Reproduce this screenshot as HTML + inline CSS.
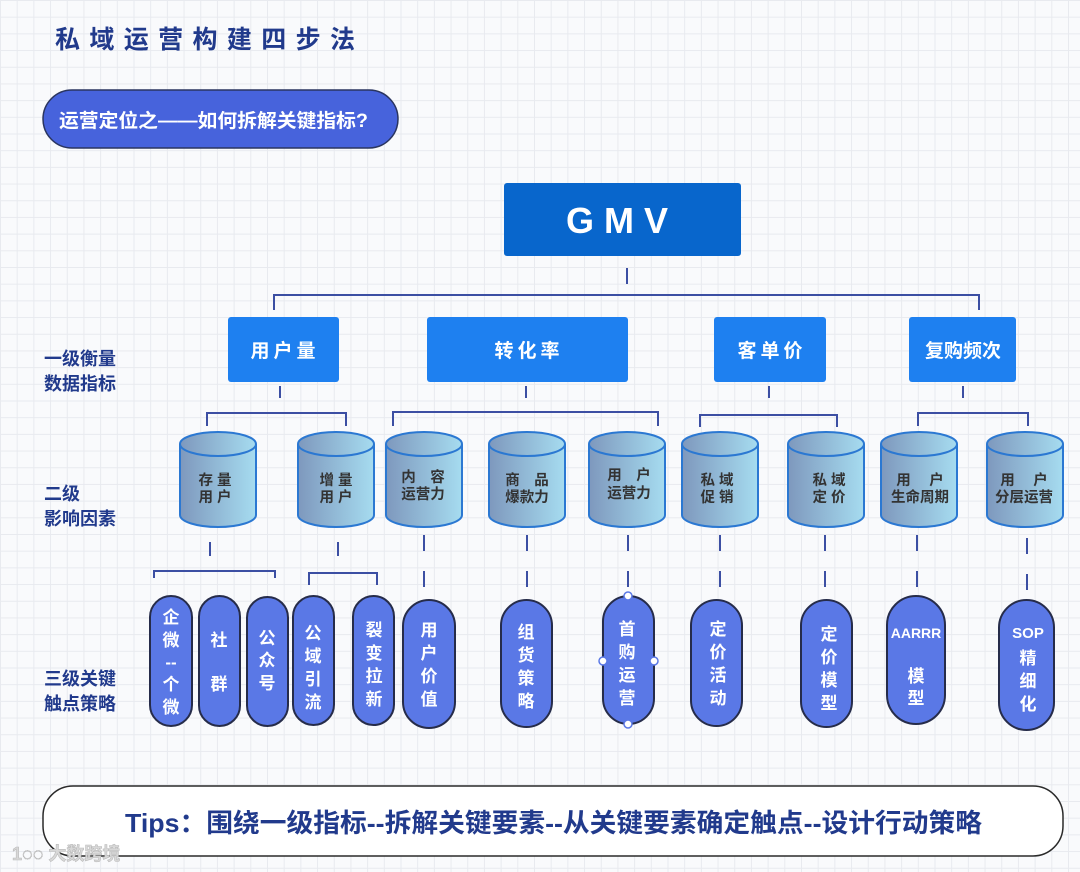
<!DOCTYPE html>
<html><head><meta charset="utf-8"><style>
html,body{margin:0;padding:0}
body{width:1080px;height:872px;overflow:hidden;background-color:#f9fafc;
background-image:linear-gradient(#e8eaef 1px,transparent 1px),linear-gradient(90deg,#e8eaef 1px,transparent 1px);
background-size:16.7px 16.7px;font-family:"Liberation Sans","Noto Sans CJK SC",sans-serif}
svg{position:absolute;left:0;top:0}
text{font-family:"Liberation Sans","Noto Sans CJK SC",sans-serif;font-weight:bold}
</style></head><body>
<svg width="1080" height="872" viewBox="0 0 1080 872">
<defs>
<linearGradient id="cy" x1="0" x2="1" y1="0" y2="0">
<stop offset="0" stop-color="#7e98bd"/><stop offset="1" stop-color="#a6dcf0"/></linearGradient>
</defs>
<text x="55" y="48" font-size="25" fill="#213a8c" textLength="300" lengthAdjust="spacing">私域运营构建四步法</text>
<rect x="43" y="90" width="355" height="58" rx="29" fill="#4763dc" stroke="#2a3560" stroke-width="1.5"/>
<text x="59" y="127" font-size="19" fill="#fff" textLength="309" lengthAdjust="spacingAndGlyphs">运营定位之——如何拆解关键指标?</text>

<g fill="#213a8c" font-size="18">
<text x="44" y="365">一级衡量</text><text x="44" y="390">数据指标</text>
<text x="44" y="500">二级</text><text x="44" y="525">影响因素</text>
<text x="44" y="685">三级关键</text><text x="44" y="710">触点策略</text>
</g>

<rect x="504" y="183" width="237" height="73" rx="3" fill="#0866cc"/>
<text x="622" y="233" font-size="36" fill="#fff" text-anchor="middle" letter-spacing="10">GMV</text>

<g stroke="#3c4fa3" stroke-width="2" fill="none">
<line x1="627" y1="268" x2="627" y2="284"/>
<polyline points="274,310 274,295 979,295 979,310"/>
<line x1="280" y1="386" x2="280" y2="398"/>
<polyline points="207,426 207,413 346,413 346,426"/>
<line x1="526" y1="386" x2="526" y2="398"/>
<polyline points="393,426 393,412 658,412 658,426"/>
<line x1="769" y1="386" x2="769" y2="398"/>
<polyline points="700,427 700,415 837,415 837,427"/>
<line x1="963" y1="386" x2="963" y2="398"/>
<polyline points="918,426 918,413 1028,413 1028,426"/>
<line x1="210" y1="542" x2="210" y2="556"/>
<polyline points="154,578 154,571 275,571 275,578"/>
<line x1="338" y1="542" x2="338" y2="556"/>
<polyline points="309,585 309,573 377,573 377,585"/>
</g>
<g stroke="#3c4fa3" stroke-width="2" stroke-dasharray="16 20">
<line x1="424" y1="535" x2="424" y2="590"/>
<line x1="527" y1="535" x2="527" y2="590"/>
<line x1="628" y1="535" x2="628" y2="590"/>
<line x1="720" y1="535" x2="720" y2="590"/>
<line x1="825" y1="535" x2="825" y2="590"/>
<line x1="917" y1="535" x2="917" y2="590"/>
<line x1="1027" y1="538" x2="1027" y2="590"/>
</g>

<g fill="#1e80f0">
<rect x="228" y="317" width="111" height="65" rx="3"/>
<rect x="427" y="317" width="201" height="65" rx="3"/>
<rect x="714" y="317" width="112" height="65" rx="3"/>
<rect x="909" y="317" width="107" height="65" rx="3"/>
</g>
<g fill="#fff" font-size="19" text-anchor="middle" letter-spacing="4">
<text x="285" y="357">用户量</text>
<text x="529" y="357">转化率</text>
<text x="772" y="357">客单价</text>
<text x="963" y="357" letter-spacing="0">复购频次</text>
</g>

<g stroke="#2b78d2" stroke-width="2">
<g transform="translate(218,0)"><path d="M-38,444 V515 A38,12 0 0 0 38,515 V444" fill="url(#cy)"/><ellipse cx="0" cy="444" rx="38" ry="12" fill="url(#cy)"/></g>
<g transform="translate(336,0)"><path d="M-38,444 V515 A38,12 0 0 0 38,515 V444" fill="url(#cy)"/><ellipse cx="0" cy="444" rx="38" ry="12" fill="url(#cy)"/></g>
<g transform="translate(424,0)"><path d="M-38,444 V515 A38,12 0 0 0 38,515 V444" fill="url(#cy)"/><ellipse cx="0" cy="444" rx="38" ry="12" fill="url(#cy)"/></g>
<g transform="translate(527,0)"><path d="M-38,444 V515 A38,12 0 0 0 38,515 V444" fill="url(#cy)"/><ellipse cx="0" cy="444" rx="38" ry="12" fill="url(#cy)"/></g>
<g transform="translate(627,0)"><path d="M-38,444 V515 A38,12 0 0 0 38,515 V444" fill="url(#cy)"/><ellipse cx="0" cy="444" rx="38" ry="12" fill="url(#cy)"/></g>
<g transform="translate(720,0)"><path d="M-38,444 V515 A38,12 0 0 0 38,515 V444" fill="url(#cy)"/><ellipse cx="0" cy="444" rx="38" ry="12" fill="url(#cy)"/></g>
<g transform="translate(826,0)"><path d="M-38,444 V515 A38,12 0 0 0 38,515 V444" fill="url(#cy)"/><ellipse cx="0" cy="444" rx="38" ry="12" fill="url(#cy)"/></g>
<g transform="translate(919,0)"><path d="M-38,444 V515 A38,12 0 0 0 38,515 V444" fill="url(#cy)"/><ellipse cx="0" cy="444" rx="38" ry="12" fill="url(#cy)"/></g>
<g transform="translate(1025,0)"><path d="M-38,444 V515 A38,12 0 0 0 38,515 V444" fill="url(#cy)"/><ellipse cx="0" cy="444" rx="38" ry="12" fill="url(#cy)"/></g>
</g>
<g fill="#333" font-size="14.5" text-anchor="middle">
<text x="215" y="485">存 量</text><text x="215" y="502">用 户</text>
<text x="336" y="485">增 量</text><text x="336" y="502">用 户</text>
<text x="423" y="482">内　容</text><text x="423" y="499">运营力</text>
<text x="527" y="485">商　品</text><text x="527" y="502">爆款力</text>
<text x="629" y="480">用　户</text><text x="629" y="498">运营力</text>
<text x="717" y="485">私 域</text><text x="717" y="502">促 销</text>
<text x="829" y="485">私 域</text><text x="829" y="502">定 价</text>
<text x="920" y="485">用　 户</text><text x="920" y="502">生命周期</text>
<text x="1024" y="485">用　 户</text><text x="1024" y="502">分层运营</text>
</g>

<g fill="#5a78e6" stroke="#262c4a" stroke-width="2">
<rect x="150" y="596" width="42" height="130" rx="21"/>
<rect x="199" y="596" width="41" height="130" rx="20.5"/>
<rect x="247" y="597" width="41" height="129" rx="20.5"/>
<rect x="293" y="596" width="41" height="129" rx="20.5"/>
<rect x="353" y="596" width="41" height="129" rx="20.5"/>
<rect x="403" y="600" width="52" height="128" rx="26"/>
<rect x="501" y="600" width="51" height="127" rx="25.5"/>
<rect x="603" y="596" width="51" height="128" rx="25.5"/>
<rect x="691" y="600" width="51" height="126" rx="25.5"/>
<rect x="801" y="600" width="51" height="127" rx="25.5"/>
<rect x="887" y="596" width="58" height="128" rx="29"/>
<rect x="999" y="600" width="55" height="130" rx="27.5"/>
</g>
<g fill="#fff" stroke="#5a78e6" stroke-width="1.5">
<circle cx="628" cy="596" r="4"/><circle cx="628" cy="724" r="4"/><circle cx="603" cy="661" r="4"/><circle cx="654" cy="661" r="4"/>
</g>
<g fill="#fff" font-size="17" text-anchor="middle">
<text x="171" y="623">企</text><text x="171" y="646">微</text><text x="171" y="668">--</text><text x="171" y="690">个</text><text x="171" y="713">微</text>
<text x="219" y="646">社</text><text x="219" y="690">群</text>
<text x="267" y="644">公</text><text x="267" y="666">众</text><text x="267" y="689">号</text>
<text x="313" y="639">公</text><text x="313" y="662">域</text><text x="313" y="685">引</text><text x="313" y="708">流</text>
<text x="374" y="636">裂</text><text x="374" y="659">变</text><text x="374" y="682">拉</text><text x="374" y="705">新</text>
<text x="429" y="636">用</text><text x="429" y="659">户</text><text x="429" y="682">价</text><text x="429" y="705">值</text>
<text x="526" y="638">组</text><text x="526" y="661">货</text><text x="526" y="684">策</text><text x="526" y="707">略</text>
<text x="627" y="635">首</text><text x="627" y="658">购</text><text x="627" y="681">运</text><text x="627" y="704">营</text>
<text x="718" y="635">定</text><text x="718" y="658">价</text><text x="718" y="681">活</text><text x="718" y="704">动</text>
<text x="829" y="640">定</text><text x="829" y="663">价</text><text x="829" y="686">模</text><text x="829" y="709">型</text>
<text x="916" y="638" font-size="14">AARRR</text><text x="916" y="682">模</text><text x="916" y="704">型</text>
<text x="1028" y="638" font-size="15">SOP</text><text x="1028" y="664">精</text><text x="1028" y="687">细</text><text x="1028" y="710">化</text>
</g>

<rect x="43" y="786" width="1020" height="70" rx="30" fill="#fff" stroke="#2a2a2a" stroke-width="1.5"/>
<text x="125" y="832" font-size="26" fill="#213a8c" textLength="857" lengthAdjust="spacingAndGlyphs">Tips：围绕一级指标--拆解关键要素--从关键要素确定触点--设计行动策略</text>
<text x="12" y="860" font-size="18" fill="#d8d8d8" stroke="#bbb" stroke-width="0.6">1◌◌ 大数跨境</text>
</svg>
</body></html>
